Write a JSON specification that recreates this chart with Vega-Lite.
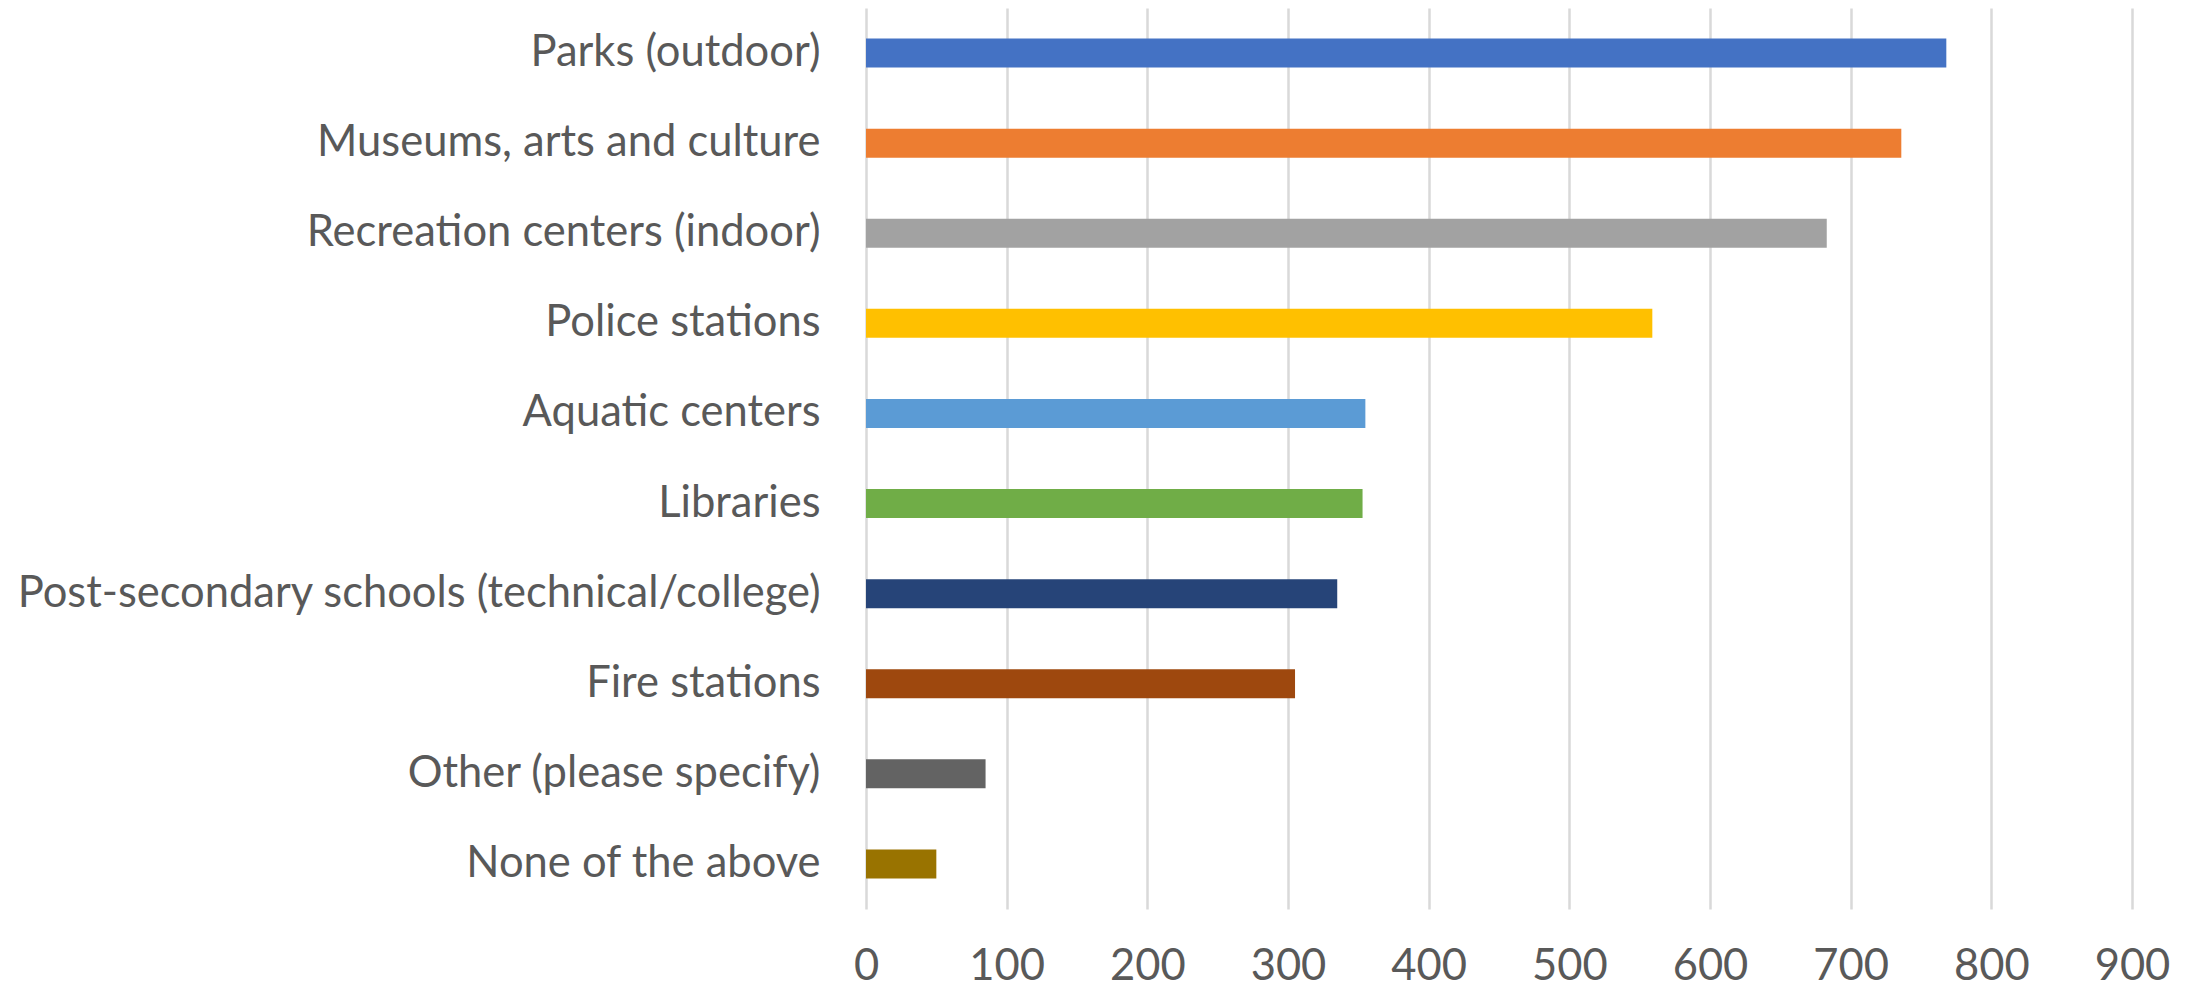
{
  "$schema": "https://vega.github.io/schema/vega-lite/v6.json",
  "autosize": "none",
  "width": 1266,
  "height": 901,
  "padding": {"left": 866, "top": 8, "right": 57, "bottom": 79},
  "background": "white",
  "config": {"view": {"stroke": null}, "font": "Lato"},
  "data": {
    "values": [
      {"category": "Parks (outdoor)", "count": 768, "color": "#4472C4"},
      {"category": "Museums, arts and culture", "count": 736, "color": "#ED7D31"},
      {"category": "Recreation centers (indoor)", "count": 683, "color": "#A2A2A2"},
      {"category": "Police stations", "count": 559, "color": "#FFC000"},
      {"category": "Aquatic centers", "count": 355, "color": "#5B9BD5"},
      {"category": "Libraries", "count": 353, "color": "#70AD47"},
      {"category": "Post-secondary schools (technical/college)", "count": 335, "color": "#264478"},
      {"category": "Fire stations", "count": 305, "color": "#9E480E"},
      {"category": "Other (please specify)", "count": 85, "color": "#636363"},
      {"category": "None of the above", "count": 50, "color": "#997300"}
    ]
  },
  "mark": {"type": "bar", "size": 29},
  "encoding": {
    "y": {
      "field": "category",
      "type": "nominal",
      "sort": null,
      "title": null,
      "axis": {
        "domain": false,
        "ticks": false,
        "labelFontSize": 43.5,
        "labelColor": "#595959",
        "labelPadding": 46,
        "labelLimit": 1000,
        "labelFont": "Lato"
      }
    },
    "x": {
      "field": "count",
      "type": "quantitative",
      "title": null,
      "scale": {"domain": [0, 900], "nice": false},
      "axis": {
        "values": [0, 100, 200, 300, 400, 500, 600, 700, 800, 900],
        "domain": false,
        "ticks": false,
        "grid": true,
        "gridColor": "#D9D9D9",
        "gridWidth": 2.5,
        "labelFontSize": 43.5,
        "labelColor": "#595959",
        "labelPadding": 36,
        "labelFont": "Lato",
        "labelFlush": false
      }
    },
    "color": {"field": "color", "type": "nominal", "scale": null, "legend": null}
  }
}
